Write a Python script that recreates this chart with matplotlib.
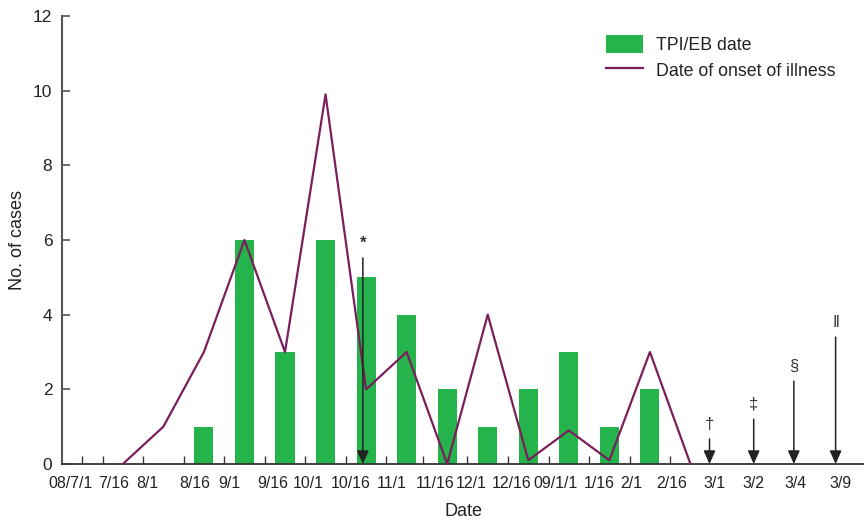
import matplotlib
matplotlib.use("Agg")
import matplotlib.pyplot as plt
from matplotlib.patches import Patch
from matplotlib.lines import Line2D

plt.rcParams['font.family'] = ['Liberation Sans', 'DejaVu Sans']

# Date labels along the x axis and their positions (half-month slots)
date_labels = ["08/7/1", "7/16", "8/1", "8/16", "9/1", "9/16", "10/1", "10/16",
               "11/1", "11/16", "12/1", "12/16", "09/1/1", "1/16", "2/1", "2/16",
               "3/1", "3/2", "3/4", "3/9"]
label_pos = [0.22, 1.26, 2.1, 3.28, 4.12, 5.2, 6.07, 7.13, 8.14, 9.2, 10.1, 11.1,
             12.18, 13.24, 14.05, 15.04, 16.1, 17.06, 18.1, 19.2]
tick_marks = [0.5, 1, 2, 3, 4, 5, 6, 7, 8, 8.9, 10, 11, 12, 13, 14, 15]

# TPI/EB date (bars)
bar_x = [3.5, 4.5, 5.5, 6.5, 7.5, 8.5, 9.5, 10.5, 11.5, 12.5, 13.5, 14.5]
bar_cases = [1, 6, 3, 6, 5, 4, 2, 1, 2, 3, 1, 2]

# Date of onset of illness (line)
onset_x = [1.5, 2.5, 3.5, 4.5, 5.5, 6.5, 7.5, 8.5, 9.5, 10.5, 11.5, 12.5, 13.5, 14.5, 15.5]
onset_cases = [0, 1, 3, 6, 3, 9.9, 2, 3, 0, 4, 0.1, 0.9, 0.1, 3, 0]

# Event arrows
arrow_x = [7.42, 15.97, 17.06, 18.05, 19.08]
arrow_top = [5.52, 0.67, 1.2, 2.22, 3.4]
arrow_sym = ["*", "\u2020", "\u2021", "\u00a7", "\u2016"]

green = "#25B34B"
purple = "#7A1F5C"
axcol = "#555555"

fig = plt.figure(figsize=(8.64, 5.22), dpi=100)
ax = fig.add_axes([62/864, 58/522, 802/864, 448/522])

ax.bar(bar_x, bar_cases, width=0.47, color=green, zorder=2)
ax.plot(onset_x, onset_cases, color=purple, lw=1.6, zorder=3)

for x, t, s in zip(arrow_x, arrow_top, arrow_sym):
    ax.annotate("", xy=(x, 0), xytext=(x, t),
                arrowprops=dict(arrowstyle="-|>,head_length=0.8,head_width=0.36",
                                mutation_scale=10, color="#222222", lw=1.1,
                                shrinkA=0, shrinkB=0),
                zorder=4)
    fw = "bold" if s == "*" else "normal"
    ax.text(x, t + 0.2, s, ha="center", va="bottom", fontsize=12, color="#333333",
            fontweight=fw)

ax.set_xlim(0, 19.78)
ax.set_ylim(0, 12)
ax.set_yticks([0, 2, 4, 6, 8, 10, 12])
ax.set_xticks(label_pos)
ax.set_xticklabels(date_labels)
ax.set_xticks(tick_marks, minor=True)
ax.tick_params(axis="x", which="major", length=0, pad=9, labelsize=11.4, labelcolor="#222222")
ax.tick_params(axis="x", which="minor", length=6, direction="in", color="#333333", width=1)
ax.tick_params(axis="y", length=6, direction="in", pad=7, labelsize=12.5,
               color=axcol, width=1.2, labelcolor="#222222")

for side in ["top", "right"]:
    ax.spines[side].set_visible(False)
ax.spines["left"].set_color(axcol)
ax.spines["left"].set_linewidth(1.5)
ax.spines["bottom"].set_color("#333333")
ax.spines["bottom"].set_linewidth(1.3)

ax.set_xlabel("Date", fontsize=13, color="#222222", labelpad=8)
ax.set_ylabel("No. of cases", fontsize=13, color="#222222", labelpad=5)

handles = [Patch(facecolor=green, edgecolor="none"),
           Line2D([0], [0], color=purple, lw=1.6)]
fig.legend(handles, ["TPI/EB date", "Date of onset of illness"],
           loc="upper left", bbox_to_anchor=(606/864, 1 - 35/522),
           frameon=False, fontsize=12.8, handlelength=2.1, handleheight=1.15,
           handletextpad=0.7, labelspacing=0.4, borderpad=0, borderaxespad=0,
           labelcolor="#222222")

fig.savefig("out.png", dpi=100)
